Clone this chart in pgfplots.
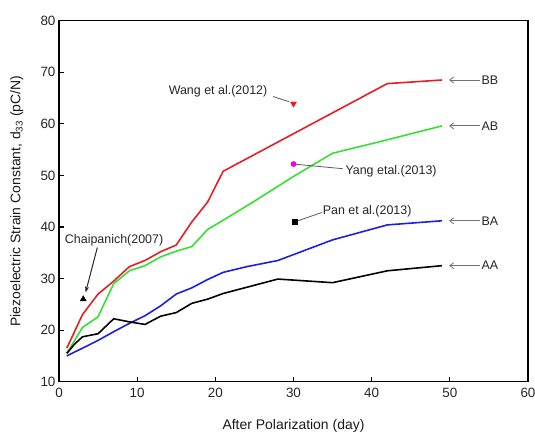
\documentclass[border=0pt]{standalone}
\usepackage{fontspec}
\setmainfont{Liberation Sans}
\usepackage{pgfplots}
\pgfplotsset{compat=1.18}
\usetikzlibrary{arrows.meta,calc}
\definecolor{cred}{RGB}{230,30,35}
\definecolor{cgreen}{RGB}{50,225,50}
\definecolor{cblue}{RGB}{30,30,225}
\definecolor{cmag}{RGB}{230,0,230}
\begin{document}
\begin{tikzpicture}
\def\af{\fontsize{12.5}{14}\selectfont}
\begin{axis}[
  scale only axis, width=469bp, height=361bp,
  xmin=0, xmax=60, ymin=10, ymax=80,
  xtick={0,10,...,60}, ytick={10,20,...,80},
  tick pos=left, tick align=inside,
  major tick length=5bp,
  axis line style={line width=1.6pt},
  tick style={line width=1.1pt, black},
  /pgf/number format/assume math mode=true,
  ticklabel style={font=\fontsize{13.5}{15}\selectfont, text=black!85},
  xticklabel style={yshift=-3bp},
  label style={font=\fontsize{14}{16}\selectfont, text=black!90},
  xlabel={After Polarization (day)},
  ylabel={Piezoelectric Strain Constant, d\textsubscript{33} (pC/N)},
  xlabel style={at={(axis description cs:0.5,-0.132)}, anchor=base},
  ylabel style={at={(axis description cs:-0.09,0.5)}, anchor=center},
  clip=false,
]
\addplot[cred, line width=1.6pt] coordinates {(1,16.5)(3,23)(5,27)(7,29.5)(9,32.3)(11,33.5)(13,35.2)(15,36.5)(17,41)(19,44.8)(21,50.8)(42,67.8)(49,68.5)};
\addplot[cgreen, line width=1.6pt] coordinates {(1,15.5)(3,20.5)(5,22.6)(7,29)(9,31.5)(11,32.5)(13,34.2)(15,35.3)(17,36.2)(19,39.5)(21,41.3)(25,45)(30,49.8)(35,54.3)(42,56.9)(49,59.6)};
\addplot[cblue, line width=1.6pt] coordinates {(1,15)(3,16.5)(5,18)(7,19.7)(9,21.3)(11,22.8)(13,24.7)(15,27)(17,28.2)(19,29.8)(21,31.2)(24,32.3)(28,33.5)(35,37.5)(42,40.4)(49,41.2)};
\addplot[black, line width=1.6pt] coordinates {(1,15.5)(2,17.3)(3,18.7)(5,19.3)(7,22.2)(9,21.6)(11,21.1)(13,22.7)(15,23.4)(17,25.2)(19,26)(21,27.1)(24,28.3)(28,29.9)(35,29.2)(42,31.5)(49,32.5)};
% literature points
\addplot[only marks, mark=triangle*, mark size=3.5bp, black] coordinates {(3.1,26)};
\addplot[only marks, mark=triangle*, mark size=3.5bp, cred, mark options={rotate=180}] coordinates {(30,63.9)};
\addplot[only marks, mark=*, mark size=2.6bp, cmag] coordinates {(30,52.2)};
\addplot[only marks, mark=square*, mark size=2.6bp, black] coordinates {(30.2,41)};
% annotations
\node[anchor=east, font=\af, text=black!85, inner sep=1bp] at (axis cs:26.8,66.4) {Wang et al.(2012)};
\draw[black!65, line width=0.8pt] (axis cs:27.4,65.3) -- (axis cs:29.4,64.3);
\node[anchor=west, font=\af, text=black!85, inner sep=1bp] at (axis cs:36.5,50.8) {Yang etal.(2013)};
\draw[black!65, line width=0.8pt] (axis cs:30,52.2) -- (axis cs:36.3,51.3);
\node[anchor=west, font=\af, text=black!85, inner sep=1bp] at (axis cs:33.6,43.0) {Pan et al.(2013)};
\draw[black!65, line width=0.8pt] (axis cs:30.2,41) -- (axis cs:33.6,42.8);
\node[font=\af, text=black!85, inner sep=1bp] at (axis cs:7.05,37.5) {Chaipanich(2007)};
\draw[black!85, line width=1pt, -{Stealth[length=6bp,width=4bp]}] (axis cs:4.9,36.0) -- (axis cs:3.4,27.3);
\node[anchor=west, font=\af, text=black!85, inner sep=1bp] at (axis cs:53.9,68.5) {BB};
\draw[black!55, line width=0.8pt, -{Straight Barb[length=4bp,width=6bp]}] (axis cs:53.8,68.5) -- (axis cs:49.9,68.5);
\node[anchor=west, font=\af, text=black!85, inner sep=1bp] at (axis cs:53.9,59.6) {AB};
\draw[black!55, line width=0.8pt, -{Straight Barb[length=4bp,width=6bp]}] (axis cs:53.8,59.6) -- (axis cs:49.9,59.6);
\node[anchor=west, font=\af, text=black!85, inner sep=1bp] at (axis cs:53.9,41.2) {BA};
\draw[black!55, line width=0.8pt, -{Straight Barb[length=4bp,width=6bp]}] (axis cs:53.8,41.2) -- (axis cs:49.9,41.2);
\node[anchor=west, font=\af, text=black!85, inner sep=1bp] at (axis cs:53.9,32.5) {AA};
\draw[black!55, line width=0.8pt, -{Straight Barb[length=4bp,width=6bp]}] (axis cs:53.8,32.5) -- (axis cs:49.9,32.5);
\end{axis}
\pgfresetboundingbox
\path[use as bounding box] ($(current axis.south west)+(-59bp,-52.3bp)$) rectangle ($(current axis.north east)+(7bp,20.7bp)$);
\end{tikzpicture}
\end{document}
